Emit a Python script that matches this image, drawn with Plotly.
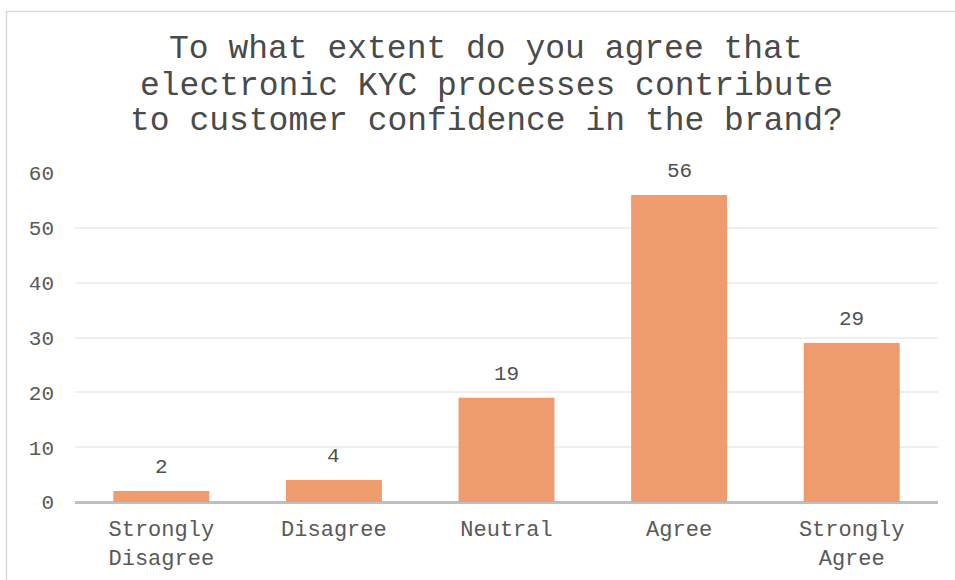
import plotly.graph_objects as go

categories = ["Strongly<br>Disagree", "Disagree", "Neutral", "Agree", "Strongly<br>Agree"]
values = [2, 4, 19, 56, 29]
y_ticks = [0, 10, 20, 30, 40, 50, 60]
title_lines = [
    "To what extent do you agree that",
    "electronic KYC processes contribute",
    "to customer confidence in the brand?",
]

FONT = "Liberation Mono, Courier New, monospace"
W, H = 955, 580
L, R, T, B = 75, 17, 173, 78
pw, ph = W - L - R, H - T - B

def px_x(px):
    return (px - L) / pw

def px_y(py):
    return (H - B - py) / ph

fig = go.Figure()
fig.add_trace(go.Bar(
    x=categories, y=values,
    marker=dict(color="#EF9B6D", line=dict(width=0)),
    hoverinfo="x+y",
))

for c, v in zip(categories, values):
    fig.add_annotation(x=c, y=v, text=str(v), showarrow=False,
                       yanchor="bottom", yshift=10,
                       font=dict(family=FONT, size=21, color="#505050"))

title_y = [49, 86, 122]
for line, yy in zip(title_lines, title_y):
    fig.add_annotation(xref="paper", yref="paper", x=px_x(486), y=px_y(yy),
                       text=line, showarrow=False, xanchor="center", yanchor="middle",
                       font=dict(family=FONT, size=33, color="#4a4a4a"))

# chart border (left and top edges visible)
fig.add_shape(type="rect", xref="paper", yref="paper",
              x0=px_x(6.5), x1=px_x(1000), y0=px_y(620), y1=px_y(11.5),
              line=dict(color="#D9D9D9", width=1.5), fillcolor="rgba(0,0,0,0)", layer="below")

fig.update_layout(
    width=W, height=H,
    margin=dict(l=L, r=R, t=T, b=B),
    paper_bgcolor="white", plot_bgcolor="white",
    bargap=0.444,
    showlegend=False,
    font=dict(family=FONT, size=22, color="#595959"),
    xaxis=dict(showgrid=False, showline=False, ticks="", zeroline=False,
               automargin=False, ticklabelstandoff=11,
               tickfont=dict(family=FONT, size=22, color="#595959")),
    yaxis=dict(range=[0, 60], tickvals=y_ticks, showgrid=True, gridcolor="#EFEFEF",
               gridwidth=1.5, zeroline=True, zerolinecolor="#BFBFBF", zerolinewidth=3,
               showline=False, ticks="", ticklabelstandoff=20, automargin=False,
               tickfont=dict(family=FONT, size=21, color="#595959")),
)

fig.write_html("out.html", config={"displayModeBar": False},
               post_script="document.body.style.margin='0';document.body.style.overflow='hidden';")
